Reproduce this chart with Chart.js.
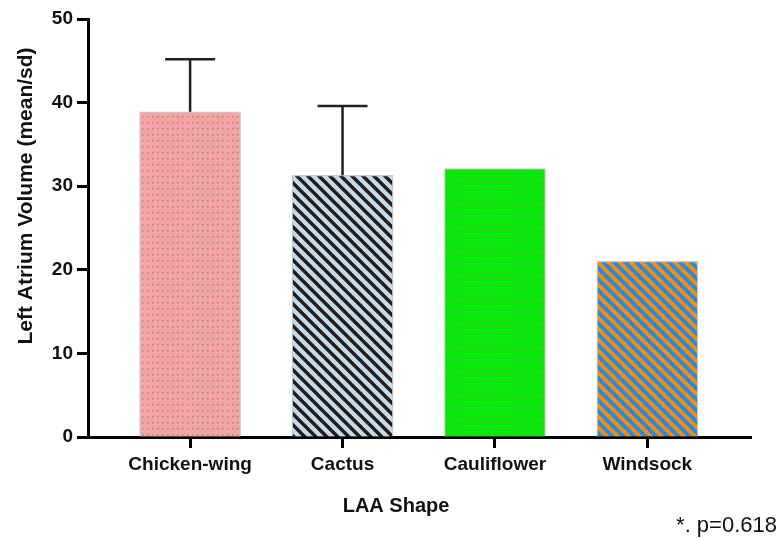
<!DOCTYPE html>
<html>
<head>
<meta charset="utf-8">
<script src="https://cdn.jsdelivr.net/npm/chart.js@4.4.1/dist/chart.umd.min.js"></script>
<style>
  html, body { margin: 0; padding: 0; background: #fff; }
  #wrap { width: 780px; height: 538px; position: relative; }
</style>
</head>
<body>
<div id="wrap"><canvas id="chart" width="780" height="538"></canvas></div>
<script>
// data
const categories = ['Chicken-wing', 'Cactus', 'Cauliflower', 'Windsock'];
const meanValues = [38.9, 31.3, 32.1, 21.0];
const sdValues = [6.3, 8.3, 0, 0];
const yTickStep = 10;
const yMax = 50;
const xTitle = 'LAA Shape';
const yTitle = 'Left Atrium Volume (mean/sd)';
const footnote = '*. p=0.618';

const FONT = '"Liberation Sans", Arial, sans-serif';

// fill patterns
function dotPattern(bg, dot) {
  const c = document.createElement('canvas');
  c.width = 5; c.height = 6;
  const g = c.getContext('2d');
  g.fillStyle = bg;
  g.fillRect(0, 0, 5, 6);
  g.fillStyle = dot;
  g.fillRect(2, 2, 1.5, 1.5);
  return g.createPattern(c, 'repeat');
}

function stripePattern(bg, fg, period, width) {
  const c = document.createElement('canvas');
  c.width = period; c.height = period;
  const g = c.getContext('2d');
  g.fillStyle = bg;
  g.fillRect(0, 0, period, period);
  g.strokeStyle = fg;
  g.lineWidth = width;
  for (let k = -1; k <= 1; k++) {
    g.beginPath();
    g.moveTo(k * period - 1, -1);
    g.lineTo(k * period + period + 1, period + 1);
    g.stroke();
  }
  return g.createPattern(c, 'repeat');
}

const fills = [
  dotPattern('#f6a3a3', '#8f8f8f'),
  stripePattern('#bfdcf6', '#2a1a0c', 11, 3.4),
  dotPattern('#00ec00', '#8f8f8f'),
  stripePattern('#ff8c00', '#1f8cf0', 11, 3.9)
];

// error bars (upper only) + loose texts
const extrasPlugin = {
  id: 'extras',
  afterDatasetsDraw(chart) {
    const ctx = chart.ctx;
    const xs = chart.scales.x, ys = chart.scales.y;
    ctx.save();
    ctx.strokeStyle = '#222';
    ctx.lineWidth = 2.5;
    meanValues.forEach((m, i) => {
      if (!sdValues[i]) return;
      const x = xs.getPixelForValue(i);
      const y0 = ys.getPixelForValue(m);
      const y1 = ys.getPixelForValue(m + sdValues[i]);
      ctx.beginPath();
      ctx.moveTo(x, y0);
      ctx.lineTo(x, y1);
      ctx.moveTo(x - 25, y1);
      ctx.lineTo(x + 25, y1);
      ctx.stroke();
    });
    ctx.restore();
  },
  afterDraw(chart) {
    const ctx = chart.ctx;
    ctx.save();
    ctx.fillStyle = '#111';
    ctx.textAlign = 'center';
    ctx.textBaseline = 'middle';
    ctx.font = 'bold 20px ' + FONT;
    ctx.fillText(xTitle, 396, 506);

    ctx.translate(26, 196);
    ctx.rotate(-Math.PI / 2);
    ctx.font = 'bold 21px ' + FONT;
    ctx.fillText(yTitle, 0, 0);
    ctx.setTransform(1, 0, 0, 1, 0, 0);

    ctx.textAlign = 'right';
    ctx.textBaseline = 'alphabetic';
    ctx.font = '22px ' + FONT;
    ctx.fillText(footnote, 777, 532);
    ctx.restore();
  }
};

new Chart(document.getElementById('chart'), {
  type: 'bar',
  data: {
    datasets: [{
      data: meanValues.map((v, i) => ({ x: i, y: v })),
      backgroundColor: fills,
      borderColor: '#c9c9c9',
      borderWidth: 1.2,
      borderSkipped: 'bottom',
      barThickness: 101
    }]
  },
  options: {
    responsive: false,
    animation: false,
    devicePixelRatio: 1,
    layout: { padding: { top: 19, right: 29, left: 0, bottom: 0 } },
    plugins: {
      legend: { display: false },
      tooltip: { enabled: false }
    },
    scales: {
      x: {
        type: 'linear',
        offset: false,
        min: -0.67,
        max: 3.68,
        afterBuildTicks(scale) {
          scale.ticks = categories.map((c, i) => ({ value: i }));
        },
        afterFit(scale) { scale.height = 101; },
        ticks: {
          color: '#111',
          font: { family: FONT, size: 19, weight: 'bold' },
          padding: 5,
          maxRotation: 0,
          autoSkip: false,
          callback: (v) => categories[v]
        },
        grid: {
          offset: false,
          drawOnChartArea: false,
          drawTicks: true,
          tickLength: 11,
          tickWidth: 3,
          tickColor: '#000'
        },
        border: { display: true, color: '#000', width: 3 }
      },
      y: {
        min: 0,
        max: yMax,
        afterFit(scale) { scale.width = 88; },
        ticks: {
          stepSize: yTickStep,
          color: '#111',
          font: { family: FONT, size: 19, weight: 'bold' },
          padding: 4
        },
        grid: {
          drawOnChartArea: false,
          drawTicks: true,
          tickLength: 11,
          tickWidth: 3,
          tickColor: '#000'
        },
        border: { display: true, color: '#000', width: 3 }
      }
    }
  },
  plugins: [extrasPlugin]
});
</script>
</body>
</html>
